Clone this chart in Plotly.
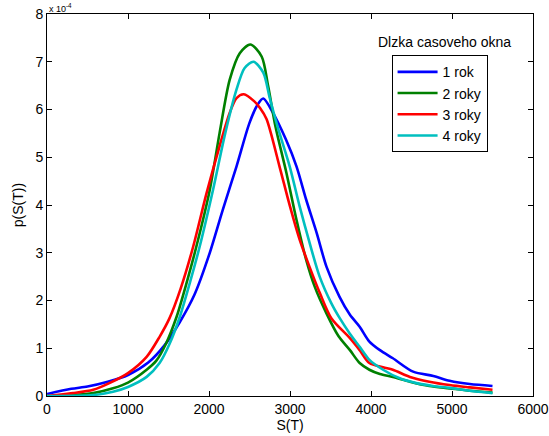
import plotly.graph_objects as go

# ---- data ----
x_1rok = [0, 300, 500, 750, 1000, 1250, 1450, 1640, 1820, 2000, 2170, 2340, 2500, 2600, 2670,
          2790, 2950, 3080, 3200, 3330, 3450, 3610, 3740, 3860, 3980, 4110, 4270, 4520, 4770,
          4970, 5220, 5500]
y_1rok = [0.04, 0.15, 0.20, 0.30, 0.44, 0.70, 1.06, 1.55, 2.12, 2.95, 3.90, 4.81, 5.72, 6.10, 6.23,
          5.93, 5.37, 4.81, 4.11, 3.41, 2.71, 2.08, 1.70, 1.45, 1.14, 0.96, 0.79, 0.51, 0.42,
          0.32, 0.25, 0.21]

x_2roky = [0, 320, 570, 815, 1000, 1230, 1350, 1470, 1600, 1720, 1844, 2010, 2130, 2255, 2380,
           2510, 2650, 2730, 2820, 2956, 3080, 3200, 3305, 3450, 3600, 3740, 3860, 3980, 4110,
           4270, 4480, 4720, 4970, 5220, 5500]
y_2roky = [0.0, 0.02, 0.06, 0.16, 0.28, 0.55, 0.74, 1.10, 1.66, 2.35, 3.13, 4.32, 5.50, 6.62, 7.18,
           7.36, 7.11, 6.49, 5.65, 4.67, 3.69, 2.85, 2.29, 1.73, 1.25, 0.96, 0.69, 0.55, 0.46,
           0.40, 0.30, 0.21, 0.16, 0.11, 0.07]

x_3roky = [0, 320, 570, 770, 1000, 1230, 1390, 1510, 1650, 1800, 1970, 2130, 2255, 2340, 2430,
           2560, 2630, 2710, 2870, 3000, 3120, 3240, 3370, 3510, 3740, 3860, 3980, 4150, 4270,
           4480, 4720, 4970, 5220, 5500]
y_3roky = [0.0, 0.06, 0.13, 0.27, 0.48, 0.82, 1.24, 1.62, 2.25, 3.10, 4.25, 5.23, 5.93, 6.24, 6.32,
           6.17, 6.03, 5.80, 4.81, 3.97, 3.27, 2.71, 2.15, 1.63, 1.21, 0.96, 0.69, 0.60, 0.55,
           0.40, 0.30, 0.23, 0.18, 0.13]

x_4roky = [0, 570, 815, 1000, 1230, 1390, 1515, 1640, 1760, 1885, 2050, 2200, 2340, 2440, 2550,
           2670, 2750, 2850, 2996, 3119, 3243, 3366, 3511, 3614, 3737, 3860, 3984, 4149, 4355,
           4560, 4766, 4972, 5219, 5500]
y_4roky = [0.0, 0.02, 0.09, 0.19, 0.40, 0.69, 1.10, 1.66, 2.35, 3.13, 4.32, 5.50, 6.42, 6.87, 7.00,
           6.77, 6.24, 5.62, 4.81, 3.97, 3.20, 2.50, 1.94, 1.63, 1.31, 1.03, 0.75, 0.55, 0.37,
           0.27, 0.21, 0.17, 0.11, 0.06]

series_names = ["1 rok", "2 roky", "3 roky", "4 roky"]
series_x = [x_1rok, x_2roky, x_3roky, x_4roky]
series_y = [y_1rok, y_2roky, y_3roky, y_4roky]
colors = ["#0000ff", "#008000", "#ff0000", "#00bfbf"]

x_ticks = [0, 1000, 2000, 3000, 4000, 5000, 6000]
y_ticks = [0, 1, 2, 3, 4, 5, 6, 7, 8]

FONT = "Liberation Sans, Arial, Helvetica, sans-serif"

fig = go.Figure()
for name, xs, ys, c in zip(series_names, series_x, series_y, colors):
    fig.add_trace(go.Scatter(x=xs, y=ys, mode="lines", name=name,
                             line=dict(color=c, width=2.6, shape="spline", smoothing=0.8)))

axis_common = dict(showgrid=False, zeroline=False, showline=True, linecolor="black",
                   linewidth=1, mirror="ticks", ticks="inside", ticklen=5, automargin=False,
                   tickcolor="black", tickfont=dict(size=14, color="black", family=FONT))

fig.update_layout(
    width=549, height=436,
    margin=dict(l=47, r=16, t=14, b=40),
    paper_bgcolor="white", plot_bgcolor="white",
    font=dict(family=FONT, size=14, color="black"),
    xaxis=dict(range=[0, 6000], tickvals=x_ticks, ticktext=[str(v) for v in x_ticks],
               title=dict(text="S(T)", font=dict(size=14), standoff=2), **axis_common),
    yaxis=dict(range=[0, 8], tickvals=y_ticks, ticktext=[str(v) for v in y_ticks],
               title=dict(text="p(S(T))", font=dict(size=14), standoff=8), **axis_common),
    legend=dict(x=0.709, y=0.892, xanchor="left", yanchor="top",
                bordercolor="black", borderwidth=1, bgcolor="white",
                font=dict(size=14, family=FONT), tracegroupgap=0,
                itemwidth=40),
    showlegend=True,
)

fig.add_annotation(text="Dlzka casoveho okna", xref="paper", yref="paper",
                   x=0.817, y=0.927, showarrow=False, xanchor="center", yanchor="middle",
                   font=dict(size=14, family=FONT, color="black"))
fig.add_annotation(text="x 10<sup>-4</sup>", xref="paper", yref="paper",
                   x=0.0, y=1.036, showarrow=False, xanchor="left", yanchor="top",
                   font=dict(size=9, family=FONT, color="black"))

fig.write_html("out.html")
